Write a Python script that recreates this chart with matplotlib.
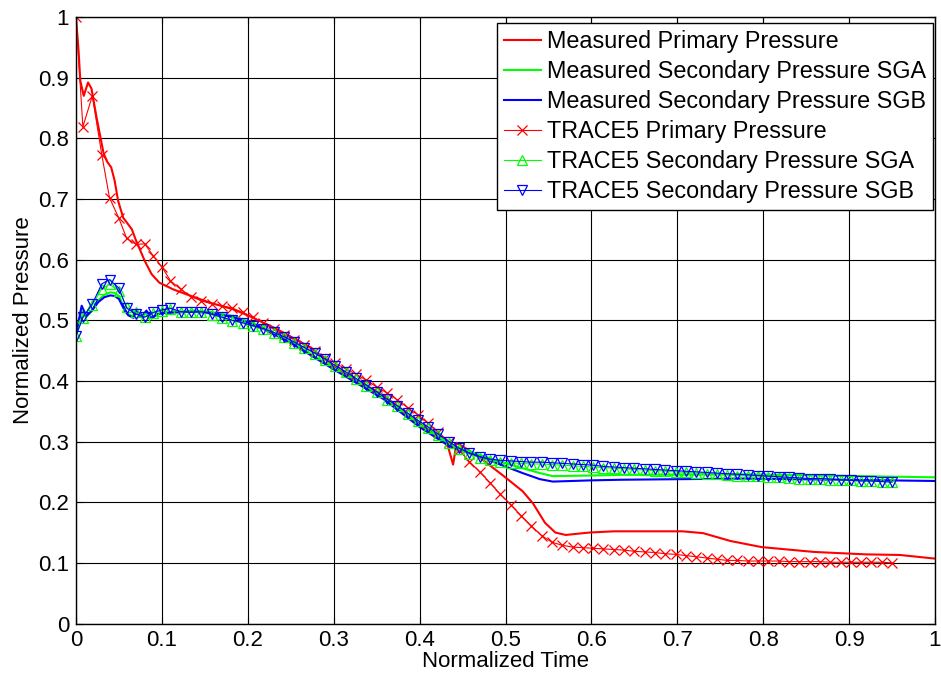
import numpy as np
import matplotlib
matplotlib.use('Agg')
import matplotlib.pyplot as plt

plt.rcParams['font.family'] = ['Liberation Sans', 'DejaVu Sans']

# measured curves
meas_p_t = [0, 0.003, 0.005, 0.009, 0.014, 0.018, 0.024, 0.032, 0.036, 0.041, 0.045, 0.049,
            0.055, 0.065, 0.070, 0.080, 0.088, 0.097, 0.113, 0.128, 0.156, 0.183, 0.200,
            0.233, 0.272, 0.300, 0.358, 0.401, 0.424, 0.433, 0.439, 0.443, 0.466, 0.498,
            0.520, 0.532, 0.546, 0.558, 0.570, 0.598, 0.626, 0.706, 0.730, 0.762, 0.798,
            0.859, 0.919, 0.959, 1.0]
meas_p = [1.0, 0.944, 0.895, 0.870, 0.892, 0.882, 0.834, 0.776, 0.762, 0.752, 0.730, 0.697,
          0.669, 0.650, 0.631, 0.598, 0.576, 0.562, 0.551, 0.543, 0.529, 0.518, 0.508,
          0.486, 0.456, 0.424, 0.376, 0.330, 0.307, 0.292, 0.262, 0.298, 0.278, 0.243,
          0.218, 0.198, 0.166, 0.150, 0.146, 0.150, 0.152, 0.152, 0.149, 0.136, 0.126,
          0.118, 0.114, 0.113, 0.107]

meas_s_t = [0, 0.0066, 0.012, 0.018, 0.026, 0.033, 0.040, 0.045, 0.050, 0.057, 0.061, 0.067,
            0.070, 0.076, 0.082, 0.088, 0.095, 0.101, 0.136, 0.156, 0.183, 0.214, 0.252,
            0.300, 0.358, 0.401, 0.435, 0.474, 0.498, 0.520, 0.540, 0.555, 0.600, 0.634,
            0.778, 1.0]
meas_sga = [0.477, 0.515, 0.505, 0.515, 0.533, 0.542, 0.546, 0.545, 0.540, 0.517, 0.510, 0.506,
            0.514, 0.505, 0.513, 0.505, 0.510, 0.512, 0.516, 0.514, 0.507, 0.491, 0.463,
            0.421, 0.372, 0.326, 0.295, 0.276, 0.265, 0.256, 0.248, 0.243, 0.244, 0.245,
            0.246, 0.241]
meas_sgb = [0.477, 0.524, 0.507, 0.515, 0.530, 0.538, 0.541, 0.540, 0.535, 0.515, 0.508, 0.504,
            0.516, 0.505, 0.516, 0.503, 0.510, 0.512, 0.514, 0.512, 0.505, 0.489, 0.461,
            0.419, 0.370, 0.323, 0.292, 0.273, 0.260, 0.248, 0.238, 0.234, 0.236, 0.237,
            0.239, 0.235]

# TRACE5 results
trace_t = [0, 0.008, 0.019, 0.030, 0.039, 0.050, 0.059, 0.070, 0.080, 0.090, 0.100] + \
    list(np.linspace(0.11, 0.95, 71))
trace_p = [1.0, 0.819, 0.870, 0.773, 0.702, 0.668, 0.635, 0.625, 0.626, 0.606, 0.588,
           0.565, 0.551, 0.539, 0.532, 0.527, 0.524, 0.520, 0.513, 0.505, 0.496,
           0.485, 0.476, 0.468, 0.460, 0.449, 0.438, 0.429, 0.420, 0.411, 0.401,
           0.390, 0.380, 0.369, 0.356, 0.344, 0.330, 0.315, 0.300, 0.286, 0.267,
           0.250, 0.232, 0.213, 0.196, 0.178, 0.161, 0.145, 0.134, 0.129, 0.126,
           0.125, 0.124, 0.123, 0.122, 0.121, 0.119, 0.118, 0.117, 0.115, 0.114,
           0.112, 0.110, 0.108, 0.106, 0.104, 0.104, 0.103, 0.103, 0.103, 0.103,
           0.102, 0.102, 0.102, 0.102, 0.101, 0.101, 0.101, 0.101, 0.101, 0.101,
           0.100]
trace_sga = [0.474, 0.504, 0.525, 0.552, 0.559, 0.549, 0.522, 0.513, 0.506, 0.512, 0.515,
             0.519, 0.513, 0.513, 0.513, 0.509, 0.504, 0.499, 0.495, 0.490, 0.485,
             0.479, 0.472, 0.463, 0.454, 0.445, 0.435, 0.424, 0.414, 0.403, 0.392,
             0.381, 0.369, 0.358, 0.346, 0.334, 0.322, 0.310, 0.298, 0.287, 0.279,
             0.273, 0.269, 0.266, 0.265, 0.264, 0.263, 0.263, 0.262, 0.261, 0.260,
             0.259, 0.258, 0.257, 0.256, 0.255, 0.254, 0.253, 0.252, 0.251, 0.250,
             0.249, 0.248, 0.247, 0.246, 0.245, 0.244, 0.243, 0.243, 0.242, 0.241,
             0.240, 0.239, 0.239, 0.238, 0.237, 0.237, 0.236, 0.235, 0.235, 0.234,
             0.234]
trace_sgb = [0.474, 0.505, 0.527, 0.560, 0.567, 0.553, 0.520, 0.510, 0.505, 0.513, 0.517,
             0.520, 0.514, 0.513, 0.514, 0.510, 0.505, 0.500, 0.496, 0.491, 0.486,
             0.480, 0.473, 0.464, 0.455, 0.446, 0.436, 0.425, 0.415, 0.404, 0.393,
             0.382, 0.370, 0.359, 0.347, 0.335, 0.324, 0.312, 0.300, 0.289, 0.281,
             0.275, 0.271, 0.269, 0.268, 0.267, 0.266, 0.266, 0.265, 0.264, 0.263,
             0.262, 0.261, 0.259, 0.258, 0.257, 0.256, 0.255, 0.254, 0.253, 0.252,
             0.251, 0.250, 0.249, 0.248, 0.247, 0.246, 0.245, 0.244, 0.243, 0.242,
             0.241, 0.240, 0.239, 0.239, 0.238, 0.237, 0.236, 0.235, 0.235, 0.234,
             0.233]

labels = ['Measured Primary Pressure', 'Measured Secondary Pressure SGA',
          'Measured Secondary Pressure SGB', 'TRACE5 Primary Pressure',
          'TRACE5 Secondary Pressure SGA', 'TRACE5 Secondary Pressure SGB']
ticks = [0, 0.1, 0.2, 0.3, 0.4, 0.5, 0.6, 0.7, 0.8, 0.9, 1]
tick_labels = ['0', '0.1', '0.2', '0.3', '0.4', '0.5', '0.6', '0.7', '0.8', '0.9', '1']

fs = 16
fig = plt.figure(figsize=(9.41, 6.79), dpi=100)
ax = fig.add_axes([76 / 941, 1 - 623.5 / 679, 859 / 941, 606.5 / 679])

ax.plot(meas_p_t, meas_p, color=(1, 0, 0), lw=1.5, label=labels[0])
ax.plot(meas_s_t, meas_sga, color=(0, 1, 0), lw=1.5, label=labels[1])
ax.plot(meas_s_t, meas_sgb, color=(0, 0, 1), lw=1.5, label=labels[2])
ax.plot(trace_t, trace_p, color=(1, 0, 0), lw=0.8, marker='x', ms=6.5, mew=0.9, label=labels[3])
ax.plot(trace_t, trace_sga, color=(0, 1, 0), lw=0.8, marker='^', ms=6.5, mew=0.9,
        mfc='none', label=labels[4])
ax.plot(trace_t, trace_sgb, color=(0, 0, 1), lw=0.8, marker='v', ms=6.5, mew=0.9,
        mfc='none', label=labels[5])

ax.set_xlim(0, 1)
ax.set_ylim(0, 1)
ax.set_xticks(ticks)
ax.set_xticklabels(tick_labels, fontsize=fs)
ax.set_yticks(ticks)
ax.set_yticklabels(tick_labels, fontsize=fs)
ax.tick_params(direction='in', top=True, right=True, length=5, width=0.8, pad=5)
ax.grid(True, color='k', lw=0.8, ls='-')
for s in ax.spines.values():
    s.set_linewidth(1.0)
ax.set_xlabel('Normalized Time', fontsize=fs, labelpad=0)
ax.set_ylabel('Normalized Pressure', fontsize=fs, labelpad=3)

leg = ax.legend(loc='upper right', bbox_to_anchor=(0.9977, 0.990), borderaxespad=0,
                fontsize=16.8, fancybox=False, framealpha=1, edgecolor='k',
                handlelength=1.6, handletextpad=0.25, labelspacing=0.3, borderpad=0.3)
leg.get_frame().set_linewidth(1.0)

fig.savefig('out.png', dpi=100)
